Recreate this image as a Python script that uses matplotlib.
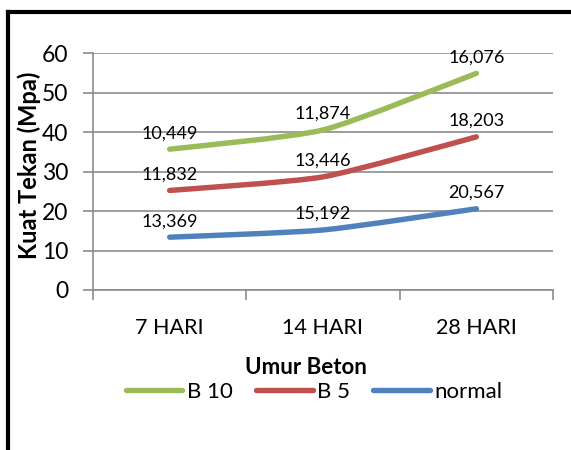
import numpy as np
import matplotlib
matplotlib.use('Agg')
import matplotlib.pyplot as plt
from matplotlib.path import Path
from matplotlib.patches import PathPatch
from matplotlib.lines import Line2D

plt.rcParams['font.family'] = ['Lato', 'DejaVu Sans']

categories = ['7 HARI', '14 HARI', '28 HARI']
# stacked line chart: labels show each series' own value
normal = [13.369, 15.192, 20.567]
b5 = [11.832, 13.446, 18.203]
b10 = [10.449, 11.874, 16.076]
series_names = ['B 10', 'B 5', 'normal']
labels_normal = ['13,369', '15,192', '20,567']
labels_b5 = ['11,832', '13,446', '18,203']
labels_b10 = ['10,449', '11,874', '16,076']
yticks = [0, 10, 20, 30, 40, 50, 60]

colors = {'B 10': '#9BBB59', 'B 5': '#C0504D', 'normal': '#4F81BD'}
grid_c = '#8C8C8C'


def smooth_path(x, y, k=10.0):
    # bezier smoothing similar to excel's "smoothed line"
    pts = np.column_stack([x, y]).astype(float)
    n = len(pts)
    verts = [pts[0]]
    codes = [Path.MOVETO]
    for i in range(n - 1):
        p0 = pts[i - 1] if i > 0 else pts[i]
        p1 = pts[i]
        p2 = pts[i + 1]
        p3 = pts[i + 2] if i + 2 < n else pts[i + 1]
        c1 = p1 + (p2 - p0) / k
        c2 = p2 - (p3 - p1) / k
        verts += [c1, c2, p2]
        codes += [Path.CURVE4] * 3
    return Path(verts, codes)


fig = plt.figure(figsize=(5.71, 4.5), dpi=100)
ax = fig.add_axes([93 / 571, 1 - 290 / 450, 460 / 571, 237 / 450])

x = np.arange(len(categories))
base = np.zeros(len(categories))
stack = []
for name, vals, labs in [('normal', normal, labels_normal),
                         ('B 5', b5, labels_b5),
                         ('B 10', b10, labels_b10)]:
    base = base + np.array(vals)
    stack.append((name, base.copy(), labs))

for name, ys, labs in stack:
    patch = PathPatch(smooth_path(x, ys), facecolor='none', edgecolor=colors[name],
                      lw=3.9, capstyle='round', joinstyle='round', zorder=3)
    ax.add_patch(patch)
    for xi, yi, lab in zip(x, ys, labs):
        ax.annotate(lab, (xi, yi), xytext=(0, 8), textcoords='offset pixels',
                    ha='center', va='bottom', fontsize=13, color='#000000', zorder=4)

ax.set_xlim(-0.5, 2.5)
ax.set_ylim(0, 60)
ax.set_yticks(yticks)
ax.set_yticklabels([str(t) for t in yticks], fontsize=16.5)
ax.set_xticks(x)
ax.set_xticklabels(categories, fontsize=15.5)
ax.set_xticks([-0.5, 0.5, 1.5, 2.5], minor=True)
ax.tick_params(axis='x', which='major', length=0, pad=20)
ax.tick_params(axis='x', which='minor', length=7, color=grid_c, width=1.2)
ax.tick_params(axis='y', length=7, color=grid_c, width=1.2, pad=11)
ax.grid(axis='y', color=grid_c, lw=1.2, zorder=0)
for s in ['top', 'right']:
    ax.spines[s].set_visible(False)
for s in ['left', 'bottom']:
    ax.spines[s].set_color(grid_c)
    ax.spines[s].set_linewidth(1.2)

ax.set_ylabel('Kuat Tekan (Mpa)', fontsize=17, fontweight='bold')
ax.yaxis.set_label_coords(-0.112, 0.527)
fig.text(306 / 571, 1 - 368 / 450, 'Umur Beton', ha='center', va='center',
         fontsize=16, fontweight='bold')

handles = [Line2D([], [], color=colors[n], lw=3.9, solid_capstyle='round') for n in series_names]
fig.legend(handles, series_names, loc='center', bbox_to_anchor=(314 / 571, 1 - 392 / 450),
           ncol=3, frameon=False, fontsize=16, handlelength=2.55, handletextpad=0.2,
           columnspacing=1.05)

# outer chart border (top and left only visible in crop)
fig.add_artist(Line2D([8 / 571, 1], [1 - 12 / 450, 1 - 12 / 450], color='black', lw=3,
                      transform=fig.transFigure))
fig.add_artist(Line2D([8 / 571, 8 / 571], [0, 1 - 12 / 450], color='black', lw=3,
                      transform=fig.transFigure))

plt.savefig('out.png', dpi=100)
